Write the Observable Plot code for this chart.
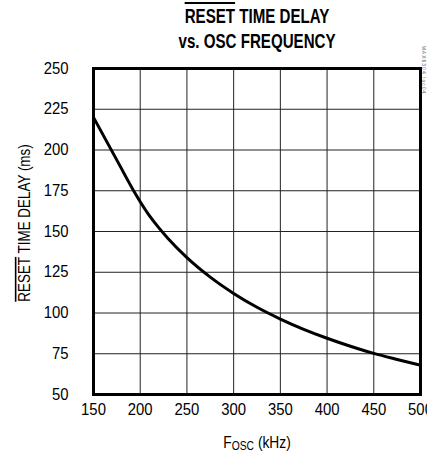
<!DOCTYPE html>
<html>
<head>
<meta charset="utf-8">
<script src="https://cdn.jsdelivr.net/npm/d3@7"></script>
<script src="https://cdn.jsdelivr.net/npm/@observablehq/plot@0.6"></script>
<style>
  body { margin: 0; background: #fff; }
  #wrap { width: 427px; height: 455px; position: relative; overflow: hidden; }
  #title { height: 55px; width: 427px; position: relative; font-family: "Liberation Sans", Arial, sans-serif;
    font-weight: bold; font-size: 21px; color: #000; }
  #title div { position: absolute; left: 0; width: 714px; text-align: center; transform: scaleX(0.72); transform-origin: 0 0; white-space: nowrap; line-height: 21px; }
  .ol { text-decoration: overline; text-decoration-thickness: 1.5px; }
  svg { display: block; }
</style>
</head>
<body>
<div id="wrap">
  <div id="title">
    <div style="top:5px"><span class="ol">RESET</span> TIME DELAY</div>
    <div style="top:30px">vs. OSC FREQUENCY</div>
  </div>
  <div id="chart"></div>
</div>
<script>
const freq  = [150, 175, 195, 200, 210, 220, 230, 250, 275, 300, 325, 350, 375, 400, 425, 450, 475, 500];
const delay = [220, 193.8, 173, 168.3, 159.6, 152.2, 145.6, 134, 122, 112, 103.5, 96.3, 90, 84.5, 79.6, 75.2, 71.5, 68];
const xTicks = [150, 200, 250, 300, 350, 400, 450, 500];
const yTicks = [50, 75, 100, 125, 150, 175, 200, 225, 250];

const data = freq.map((f, i) => ({f, d: delay[i]}));
const font = '"Liberation Sans", Arial, sans-serif';

const plot = Plot.plot({
  width: 427,
  height: 400,
  marginTop: 13,
  marginBottom: 61,
  marginLeft: 93,
  marginRight: 7,
  style: {fontFamily: font, fontSize: "16px", color: "#000", background: "#fff", overflow: "visible"},
  x: {domain: [150, 500], ticks: xTicks, label: null},
  y: {domain: [50, 250], ticks: yTicks, label: null},
  marks: [
    Plot.gridX(xTicks, {stroke: "#222", strokeOpacity: 1, strokeWidth: 1}),
    Plot.gridY(yTicks, {stroke: "#222", strokeOpacity: 1, strokeWidth: 1}),
    Plot.axisX(xTicks, {tickSize: 0, tickPadding: 9, fontSize: 16, label: null}),
    Plot.axisY(yTicks, {tickSize: 0, tickPadding: 25, fontSize: 16, label: null}),
    Plot.line(data, {x: "f", y: "d", stroke: "#000", strokeWidth: 3, curve: "monotone-x"}),
    Plot.frame({stroke: "#000", strokeWidth: 3})
  ]
});
document.getElementById("chart").appendChild(plot);

const svg = d3.select(plot);
// condense tick labels horizontally
svg.selectAll('g[aria-label$="tick label"] text').each(function() {
  const t = this.getAttribute("transform");
  if (t) {
    this.setAttribute("transform", t + " scale(0.93,1)");
  } else {
    const x = +this.getAttribute("x") || 0, y = +this.getAttribute("y") || 0;
    this.removeAttribute("x"); this.removeAttribute("y");
    this.setAttribute("transform", `translate(${x},${y}) scale(0.93,1)`);
  }
});

// Y axis label
const yl = svg.append("text")
  .attr("transform", "translate(30,168) rotate(-90) scale(0.84,1)")
  .attr("text-anchor", "middle")
  .attr("font-family", font)
  .attr("font-size", 16)
  .attr("fill", "#000");
yl.append("tspan").style("text-decoration", "overline").text("RESET");
yl.append("tspan").text(" TIME DELAY (ms)");

// X axis label
const xl = svg.append("text")
  .attr("transform", "translate(257,393) scale(0.86,1)")
  .attr("text-anchor", "middle")
  .attr("font-family", font)
  .attr("font-size", 16)
  .attr("fill", "#000");
xl.append("tspan").text("F");
xl.append("tspan").attr("font-size", 12).attr("dy", 2).text("OSC");
xl.append("tspan").attr("dy", -2).text(" (kHz)");

// watermark
svg.append("text")
  .attr("transform", "translate(422,15) rotate(90)")
  .attr("font-family", font)
  .attr("font-size", 5)
  .attr("letter-spacing", 1)
  .attr("fill", "#666")
  .text("MAX6304 toc04");
</script>
</body>
</html>
